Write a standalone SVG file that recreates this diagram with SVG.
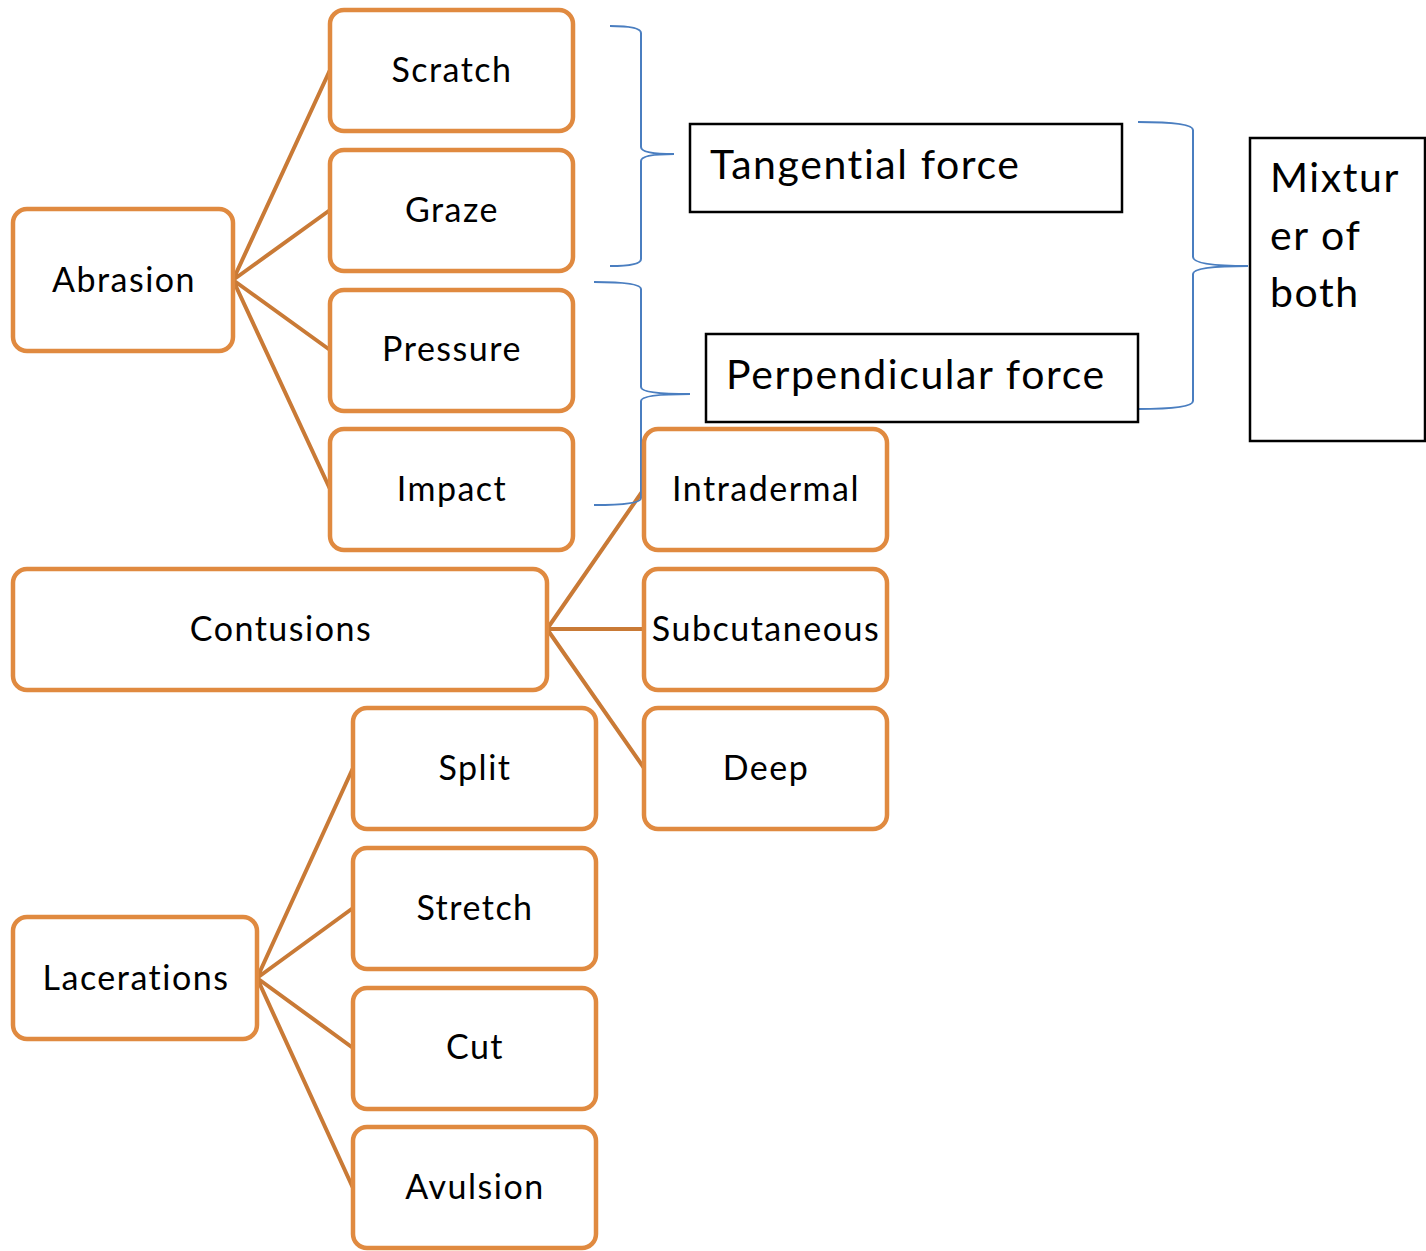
<svg xmlns="http://www.w3.org/2000/svg" width="1426" height="1251" viewBox="0 0 1426 1251">
<style>
.n{fill:#fff;stroke:#E08A40;stroke-width:4.5}
.t{font-family:Lato,"Open Sans",sans-serif;font-size:34px;letter-spacing:1.5px;fill:#000;text-anchor:middle}
.b{fill:#fff;stroke:#000;stroke-width:2.5}
.bt{font-family:Lato,"Open Sans",sans-serif;font-size:41px;letter-spacing:1.6px;fill:#000}
.c{stroke:#C97A36;stroke-width:4;fill:none}
.br{stroke:#4A7EC0;stroke-width:2;fill:none}
</style>
<rect width="1426" height="1251" fill="#fff"/>
<g id="connectors">
<path class="c" d="M233 280L330 70M233 280L330 210M233 280L330 350M233 280L330 489"/>
<path class="c" d="M547 629L644 489M547 629L644 629M547 629L644 768"/>
<path class="c" d="M257 978L353 768M257 978L353 908M257 978L353 1048M257 978L353 1188"/>
<path class="br" d="M610 26Q641 26 641 33L641 147Q641 154 674 154Q641 154 641 161L641 259Q641 266 610 266"/>
<path class="br" d="M594 282Q641 282 641 289L641 387Q641 394 690 394Q641 394 641 401L641 498Q641 505 594 505"/>
<path class="br" d="M1138 122Q1193 122 1193 130L1193 257Q1193 266 1248 266Q1193 266 1193 274L1193 401Q1193 409 1138 409"/>
</g>
<g id="abrasion"><rect class="n" x="13" y="209" width="220" height="142" rx="14"/><text class="t" x="124" y="292">Abrasion</text></g>
<g id="scratch"><rect class="n" x="330" y="10" width="243" height="121" rx="14"/><text class="t" x="452" y="82">Scratch</text></g>
<g id="graze"><rect class="n" x="330" y="150" width="243" height="121" rx="14"/><text class="t" x="452" y="222">Graze</text></g>
<g id="pressure"><rect class="n" x="330" y="290" width="243" height="121" rx="14"/><text class="t" x="452" y="361">Pressure</text></g>
<g id="impact"><rect class="n" x="330" y="429" width="243" height="121" rx="14"/><text class="t" x="452" y="501">Impact</text></g>
<g id="contusions"><rect class="n" x="13" y="569" width="534" height="121" rx="14"/><text class="t" x="281" y="641">Contusions</text></g>
<g id="intradermal"><rect class="n" x="644" y="429" width="243" height="121" rx="14"/><text class="t" x="766" y="501">Intradermal</text></g>
<g id="subcutaneous"><rect class="n" x="644" y="569" width="243" height="121" rx="14"/><text class="t" x="766" y="641">Subcutaneous</text></g>
<g id="deep"><rect class="n" x="644" y="708" width="243" height="121" rx="14"/><text class="t" x="766" y="780">Deep</text></g>
<g id="split"><rect class="n" x="353" y="708" width="243" height="121" rx="14"/><text class="t" x="475" y="780">Split</text></g>
<g id="stretch"><rect class="n" x="353" y="848" width="243" height="121" rx="14"/><text class="t" x="475" y="920">Stretch</text></g>
<g id="cut"><rect class="n" x="353" y="988" width="243" height="121" rx="14"/><text class="t" x="475" y="1059">Cut</text></g>
<g id="avulsion"><rect class="n" x="353" y="1127" width="243" height="121" rx="14"/><text class="t" x="475" y="1199">Avulsion</text></g>
<g id="lacerations"><rect class="n" x="13" y="917" width="244" height="122" rx="14"/><text class="t" x="136" y="990">Lacerations</text></g>
<g id="tangential"><rect class="b" x="690" y="124" width="432" height="88"/><text class="bt" x="710" y="179">Tangential force</text></g>
<g id="perpendicular"><rect class="b" x="706" y="334" width="432" height="88"/><text class="bt" x="726" y="389">Perpendicular force</text></g>
<g id="mixture"><rect class="b" x="1250" y="138" width="175" height="303"/><text class="bt" x="1270" y="192">Mixtur</text><text class="bt" x="1270" y="250">er of</text><text class="bt" x="1270" y="307">both</text></g>
</svg>
